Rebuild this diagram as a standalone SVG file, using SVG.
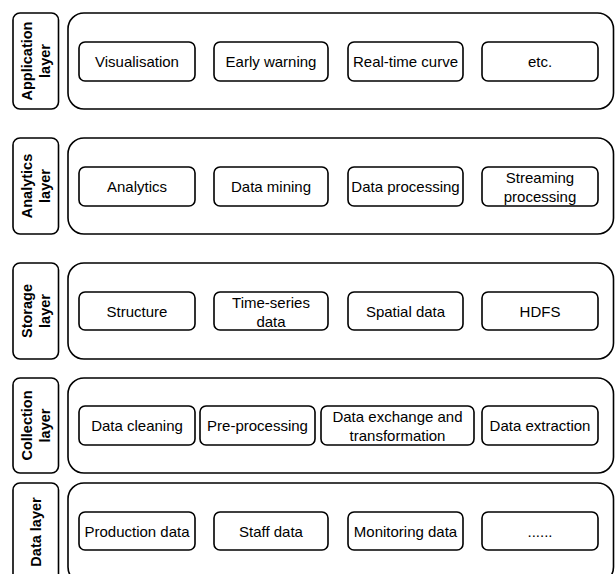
<svg xmlns="http://www.w3.org/2000/svg" width="615" height="574" viewBox="0 0 615 574">
  <style>
    .frame { fill: #ffffff; stroke: #000000; stroke-width: 1.6; }
    .item { fill: #ffffff; stroke: #000000; stroke-width: 1.6; }
    .t { font-family: "Liberation Sans", Arial, Helvetica, sans-serif; font-size: 15px; fill: #000000; text-anchor: middle; dominant-baseline: central; }
    .lbl { font-family: "Liberation Sans", Arial, Helvetica, sans-serif; font-size: 14.5px; font-weight: bold; fill: #000000; text-anchor: middle; dominant-baseline: central; }
  </style>
  <rect width="615" height="574" fill="#ffffff"/>

  <!-- Application layer -->
  <g id="application-layer">
    <rect class="frame" x="13" y="13" width="45.5" height="96" rx="7"/>
    <text class="lbl" transform="translate(36 61) rotate(-90)"><tspan x="0" y="-9">Application</tspan><tspan x="0" y="9">layer</tspan></text>
    <rect class="frame" x="68" y="13" width="545.5" height="96" rx="16"/>
  </g>
  <g id="visualisation"><rect class="item" x="79" y="42" width="116" height="39" rx="6"/><text class="t" x="137" y="61.5">Visualisation</text></g>
  <g id="early-warning"><rect class="item" x="214" y="42" width="114" height="39" rx="6"/><text class="t" x="271" y="61.5">Early warning</text></g>
  <g id="real-time-curve"><rect class="item" x="348" y="42" width="115" height="39" rx="6"/><text class="t" x="405.5" y="61.5">Real-time curve</text></g>
  <g id="etc"><rect class="item" x="482" y="42" width="116" height="39" rx="6"/><text class="t" x="540" y="61.5">etc.</text></g>

  <!-- Analytics layer -->
  <g id="analytics-layer">
    <rect class="frame" x="13" y="138" width="45.5" height="96" rx="7"/>
    <text class="lbl" transform="translate(36 186) rotate(-90)"><tspan x="0" y="-9">Analytics</tspan><tspan x="0" y="9">layer</tspan></text>
    <rect class="frame" x="68" y="138" width="545.5" height="96" rx="16"/>
  </g>
  <g id="analytics"><rect class="item" x="79" y="167" width="116" height="39" rx="6"/><text class="t" x="137" y="186.5">Analytics</text></g>
  <g id="data-mining"><rect class="item" x="214" y="167" width="114" height="39" rx="6"/><text class="t" x="271" y="186.5">Data mining</text></g>
  <g id="data-processing"><rect class="item" x="348" y="167" width="115" height="39" rx="6"/><text class="t" x="405.5" y="186.5">Data processing</text></g>
  <g id="streaming-processing"><rect class="item" x="482" y="167" width="116" height="39" rx="6"/><text class="t"><tspan x="540" y="177">Streaming</tspan><tspan x="540" y="196">processing</tspan></text></g>

  <!-- Storage layer -->
  <g id="storage-layer">
    <rect class="frame" x="13" y="263" width="45.5" height="96" rx="7"/>
    <text class="lbl" transform="translate(36 311) rotate(-90)"><tspan x="0" y="-9">Storage</tspan><tspan x="0" y="9">layer</tspan></text>
    <rect class="frame" x="68" y="263" width="545.5" height="96" rx="16"/>
  </g>
  <g id="structure"><rect class="item" x="79" y="292" width="116" height="38" rx="6"/><text class="t" x="137" y="311">Structure</text></g>
  <g id="time-series-data"><rect class="item" x="214" y="292" width="114" height="38" rx="6"/><text class="t"><tspan x="271" y="301.5">Time-series</tspan><tspan x="271" y="320.5">data</tspan></text></g>
  <g id="spatial-data"><rect class="item" x="348" y="292" width="115" height="38" rx="6"/><text class="t" x="405.5" y="311">Spatial data</text></g>
  <g id="hdfs"><rect class="item" x="482" y="292" width="116" height="38" rx="6"/><text class="t" x="540" y="311">HDFS</text></g>

  <!-- Collection layer -->
  <g id="collection-layer">
    <rect class="frame" x="13" y="378" width="45.5" height="95" rx="7"/>
    <text class="lbl" transform="translate(36 425.5) rotate(-90)"><tspan x="0" y="-9">Collection</tspan><tspan x="0" y="9">layer</tspan></text>
    <rect class="frame" x="68" y="378" width="545.5" height="95" rx="16"/>
  </g>
  <g id="data-cleaning"><rect class="item" x="79" y="406" width="116" height="39" rx="6"/><text class="t" x="137" y="425.5">Data cleaning</text></g>
  <g id="pre-processing"><rect class="item" x="200" y="406" width="115" height="39" rx="6"/><text class="t" x="257.5" y="425.5">Pre-processing</text></g>
  <g id="data-exchange"><rect class="item" x="321" y="406" width="153" height="39" rx="6"/><text class="t"><tspan x="397.5" y="416">Data exchange and</tspan><tspan x="397.5" y="435">transformation</tspan></text></g>
  <g id="data-extraction"><rect class="item" x="482" y="406" width="116" height="39" rx="6"/><text class="t" x="540" y="425.5">Data extraction</text></g>

  <!-- Data layer -->
  <g id="data-layer">
    <rect class="frame" x="13" y="483" width="45.5" height="100" rx="7"/>
    <text class="lbl" transform="translate(36 532) rotate(-90)" x="0" y="0">Data layer</text>
    <rect class="frame" x="68" y="483" width="545.5" height="100" rx="16"/>
  </g>
  <g id="production-data"><rect class="item" x="79" y="512" width="116" height="38" rx="6"/><text class="t" x="137" y="531">Production data</text></g>
  <g id="staff-data"><rect class="item" x="214" y="512" width="114" height="38" rx="6"/><text class="t" x="271" y="531">Staff data</text></g>
  <g id="monitoring-data"><rect class="item" x="348" y="512" width="115" height="38" rx="6"/><text class="t" x="405.5" y="531">Monitoring data</text></g>
  <g id="more-data"><rect class="item" x="482" y="512" width="116" height="38" rx="6"/><text class="t" x="540" y="531">......</text></g>

  <g id="connectors"></g>
</svg>
